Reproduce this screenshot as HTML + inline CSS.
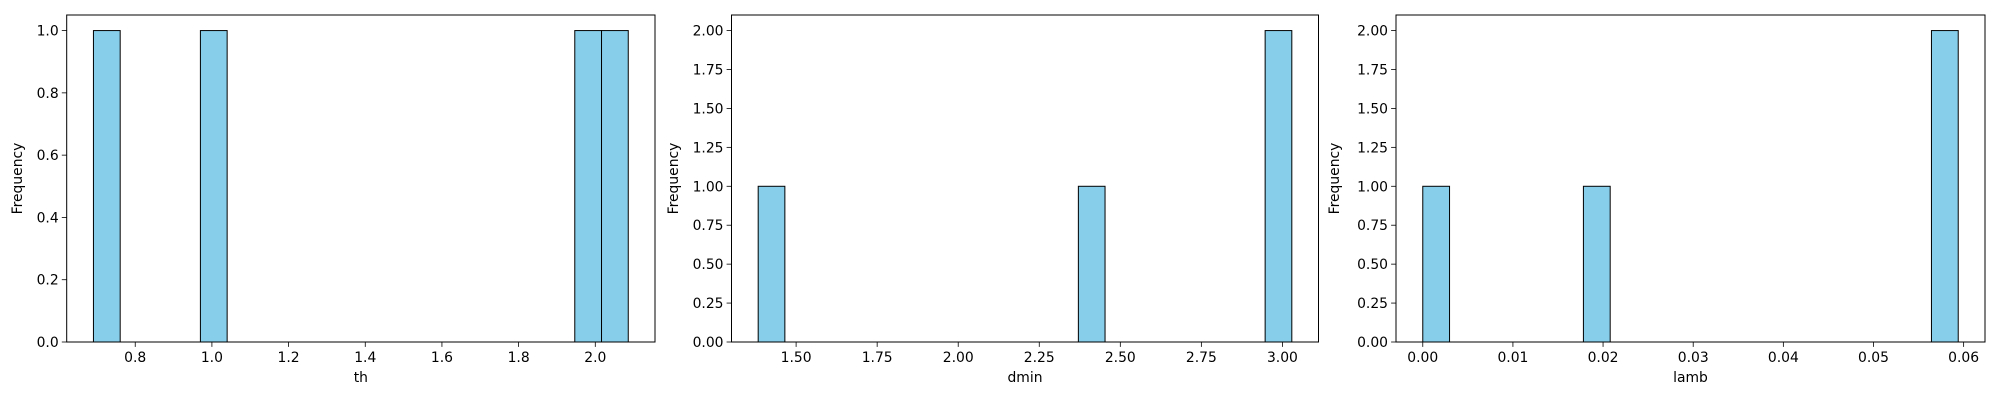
<!DOCTYPE html>
<html><head><meta charset="utf-8"><style>
html,body{margin:0;padding:0;background:#fff;}
svg text{font-family:"DejaVu Sans","Liberation Sans",sans-serif;font-size:13.9px;fill:#000;}
</style></head><body>
<svg id="fig" width="2000" height="400" xmlns="http://www.w3.org/2000/svg"></svg>
<script>
const thValues = [0.691, 1.0, 2.0, 2.086];
const dminValues = [1.383, 2.4, 3.0, 3.029];
const lambValues = [0.0, 0.019, 0.058, 0.0594];
const thXTicks = [0.8, 1.0, 1.2, 1.4, 1.6, 1.8, 2.0];
const thYTicks = [0.0, 0.2, 0.4, 0.6, 0.8, 1.0];
const dminXTicks = [1.5, 1.75, 2.0, 2.25, 2.5, 2.75, 3.0];
const dminYTicks = [0, 0.25, 0.5, 0.75, 1.0, 1.25, 1.5, 1.75, 2.0];
const lambXTicks = [0, 0.01, 0.02, 0.03, 0.04, 0.05, 0.06];
const lambYTicks = [0, 0.25, 0.5, 0.75, 1.0, 1.25, 1.5, 1.75, 2.0];

const NS = "http://www.w3.org/2000/svg";
const svg = document.getElementById('fig');
function mk(tag, attrs, parent){const e=document.createElementNS(NS,tag);for(const k in attrs)e.setAttribute(k,attrs[k]);(parent||svg).appendChild(e);return e;}

function panel(name, values, xTicks, yTicks, xDec, yDec, left, right, ylabX){
  const top=15, bottom=342, nb=20;
  const g=mk('g',{});
  
  
  const mn=Math.min(...values), mx=Math.max(...values), w=(mx-mn)/nb;
  const counts=new Array(nb).fill(0);
  values.forEach(v=>{let i=Math.floor((v-mn)/w);if(i>=nb)i=nb-1;counts[i]++;});
  const maxC=Math.max(...counts);
  const x0=mn-0.05*(mx-mn), x1=mx+0.05*(mx-mn);
  const y1=maxC*1.05;
  const sx=v=>left+(v-x0)/(x1-x0)*(right-left);
  const sy=v=>bottom-v/y1*(bottom-top);
  for(let i=0;i<nb;i++){
    const a=sx(mn+i*w), b=sx(mn+(i+1)*w);
    const r=mk('rect',{x:a,y:sy(counts[i]),width:b-a,height:sy(0)-sy(counts[i]),fill:'#87ceeb',stroke:'#000','stroke-width':1},g);
    
    
  }
  xTicks.forEach(t=>{
    const x=sx(t);
    mk('line',{x1:x,x2:x,y1:bottom,y2:bottom+4.9,stroke:'#000','stroke-width':0.8},g);
    const tx=mk('text',{x:x,y:bottom+20,'text-anchor':'middle'},g);
    tx.textContent=t.toFixed(xDec);
    
    
  });
  yTicks.forEach(t=>{
    const y=sy(t);
    mk('line',{x1:left-4.9,x2:left,y1:y,y2:y,stroke:'#000','stroke-width':0.8},g);
    const tx=mk('text',{x:left-8,y:y+5,'text-anchor':'end'},g);
    tx.textContent=t.toFixed(yDec);
    
    
  });
  mk('rect',{x:left,y:top,width:right-left,height:bottom-top,fill:'none',stroke:'#000','stroke-width':1},g);
  const xl=mk('text',{x:(left+right)/2,y:382,'text-anchor':'middle'},g);
  xl.textContent=name;
  
  
  const yl=mk('text',{x:0,y:0,'text-anchor':'middle',transform:'translate('+(ylabX+5)+','+((top+bottom)/2)+') rotate(-90)'},g);
  yl.textContent='Frequency';
  
  
}
panel('th', thValues, thXTicks, thYTicks, 1, 1, 66.7, 655, 17);
panel('dmin', dminValues, dminXTicks, dminYTicks, 2, 2, 731.5, 1318.5, 673);
panel('lamb', lambValues, lambXTicks, lambYTicks, 2, 2, 1396, 1985, 1334);
</script>
</body></html>
